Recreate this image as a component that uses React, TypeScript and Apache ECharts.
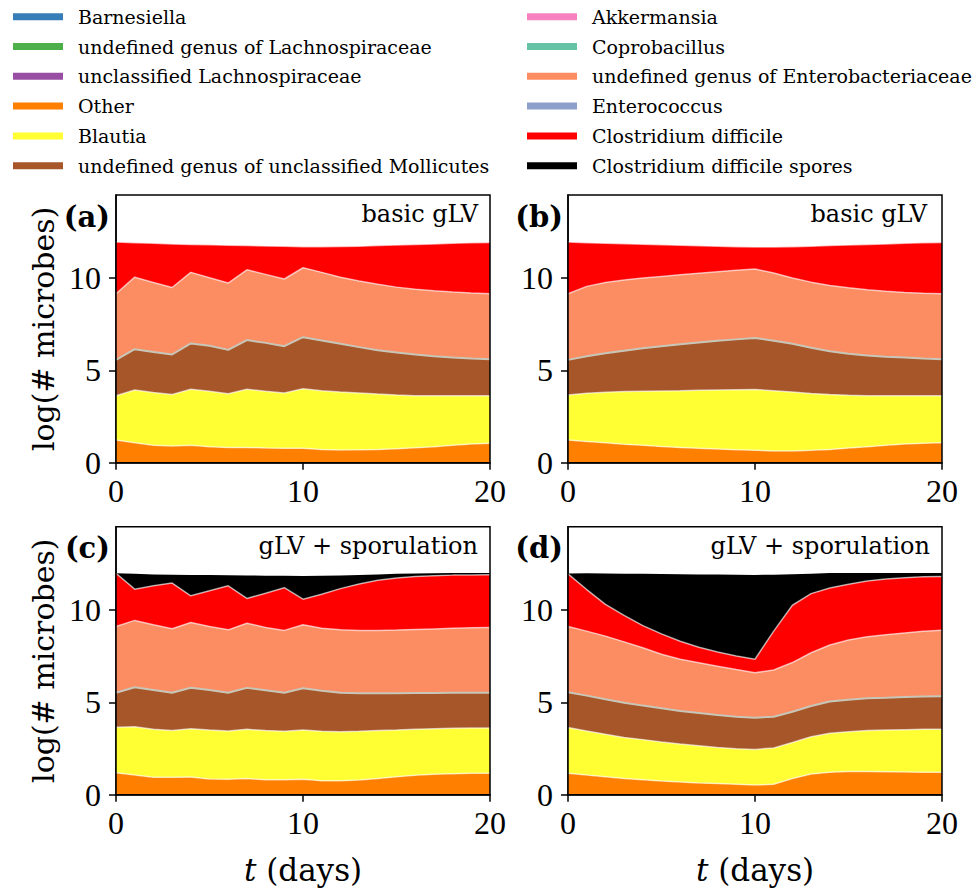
import React, { useEffect, useRef } from "react";
import * as echarts from "echarts";

const days = [0, 1, 2, 3, 4, 5, 6, 7, 8, 9, 10, 11, 12, 13, 14, 15, 16, 17, 18, 19, 20];

const species = [
  "Barnesiella",
  "undefined genus of Lachnospiraceae",
  "unclassified Lachnospiraceae",
  "Other",
  "Blautia",
  "undefined genus of unclassified Mollicutes",
  "Akkermansia",
  "Coprobacillus",
  "undefined genus of Enterobacteriaceae",
  "Enterococcus",
  "Clostridium difficile",
  "Clostridium difficile spores",
];
const speciesColors = [
  "#377eb8", "#4daf4a", "#984ea3", "#ff7f00", "#ffff33", "#a65628",
  "#f781bf", "#66c2a5", "#fc8d62", "#8da0cb", "#ff0000", "#000000",
];

// absent (≈0 on the log-stack) layers
const absent = [0, 0, 0, 0, 0, 0, 0, 0, 0, 0, 0, 0, 0, 0, 0, 0, 0, 0, 0, 0, 0];

// (a) basic gLV, pulsed
const otherA = [1.23, 1.08, 0.94, 0.90, 0.94, 0.87, 0.83, 0.83, 0.80, 0.78, 0.78, 0.72, 0.69, 0.70, 0.72, 0.76, 0.81, 0.87, 0.94, 1.01, 1.05];
const blautiaA = [2.40, 2.86, 2.86, 2.79, 3.04, 3.00, 2.91, 3.15, 3.07, 3.00, 3.22, 3.18, 3.14, 3.08, 3.00, 2.91, 2.82, 2.75, 2.68, 2.61, 2.57];
const mollA = [1.94, 2.21, 2.20, 2.17, 2.48, 2.46, 2.37, 2.66, 2.62, 2.53, 2.80, 2.72, 2.61, 2.48, 2.37, 2.30, 2.23, 2.15, 2.08, 2.02, 1.99];
const enteroA = [3.58, 3.90, 3.76, 3.63, 3.85, 3.69, 3.62, 3.81, 3.71, 3.64, 3.76, 3.69, 3.61, 3.58, 3.57, 3.54, 3.54, 3.54, 3.54, 3.55, 3.54];
const cdiffA = [2.80, 1.87, 2.12, 2.36, 1.51, 1.78, 2.05, 1.31, 1.54, 1.77, 1.14, 1.39, 1.66, 1.89, 2.10, 2.28, 2.42, 2.54, 2.64, 2.72, 2.78];
const sporesA = [0, 0, 0, 0, 0, 0, 0, 0, 0, 0, 0, 0, 0, 0, 0, 0, 0, 0, 0, 0, 0];

// (b) basic gLV, continuous
const otherB = [1.23, 1.15, 1.08, 1.00, 0.94, 0.88, 0.83, 0.78, 0.74, 0.70, 0.67, 0.64, 0.63, 0.67, 0.72, 0.80, 0.87, 0.94, 1.01, 1.05, 1.08];
const blautiaB = [2.44, 2.61, 2.74, 2.85, 2.93, 3.01, 3.07, 3.14, 3.20, 3.25, 3.29, 3.26, 3.20, 3.08, 2.97, 2.85, 2.75, 2.68, 2.61, 2.57, 2.54];
const mollB = [1.90, 2.01, 2.11, 2.22, 2.33, 2.42, 2.52, 2.59, 2.66, 2.73, 2.80, 2.70, 2.61, 2.48, 2.35, 2.25, 2.18, 2.12, 2.08, 2.03, 1.99];
const enteroB = [3.58, 3.78, 3.83, 3.82, 3.80, 3.78, 3.76, 3.75, 3.74, 3.74, 3.73, 3.67, 3.56, 3.55, 3.56, 3.57, 3.57, 3.55, 3.52, 3.53, 3.54];
const cdiffB = [2.80, 2.37, 2.13, 1.97, 1.83, 1.72, 1.60, 1.49, 1.38, 1.28, 1.19, 1.41, 1.70, 1.95, 2.16, 2.32, 2.45, 2.56, 2.66, 2.73, 2.78];
const sporesB = [0, 0, 0, 0, 0, 0, 0, 0, 0, 0, 0, 0, 0, 0, 0, 0, 0, 0, 0, 0, 0];

// (c) gLV + sporulation, pulsed
const otherC = [1.19, 1.06, 0.94, 0.94, 0.96, 0.85, 0.83, 0.87, 0.81, 0.81, 0.83, 0.76, 0.76, 0.79, 0.88, 0.97, 1.05, 1.10, 1.14, 1.16, 1.16];
const blautiaC = [2.46, 2.62, 2.60, 2.54, 2.61, 2.65, 2.62, 2.67, 2.66, 2.62, 2.67, 2.67, 2.65, 2.64, 2.59, 2.53, 2.49, 2.47, 2.45, 2.45, 2.45];
const mollC = [1.87, 2.13, 2.13, 2.04, 2.22, 2.17, 2.07, 2.24, 2.18, 2.09, 2.26, 2.20, 2.11, 2.06, 2.02, 1.99, 1.96, 1.93, 1.92, 1.91, 1.91];
const enteroC = [3.58, 3.62, 3.52, 3.46, 3.53, 3.43, 3.40, 3.50, 3.40, 3.37, 3.43, 3.38, 3.40, 3.40, 3.40, 3.42, 3.44, 3.47, 3.49, 3.51, 3.53];
const cdiffC = [2.88, 1.69, 2.11, 2.47, 1.44, 1.93, 2.38, 1.34, 1.85, 2.31, 1.39, 1.84, 2.23, 2.51, 2.71, 2.81, 2.86, 2.88, 2.88, 2.86, 2.85];
const sporesC = [0.0, 0.83, 0.62, 0.45, 1.13, 0.85, 0.57, 1.24, 0.95, 0.64, 1.25, 0.99, 0.71, 0.49, 0.32, 0.23, 0.17, 0.13, 0.11, 0.10, 0.09];

// (d) gLV + sporulation, continuous
const otherD = [1.16, 1.06, 0.97, 0.88, 0.81, 0.74, 0.69, 0.63, 0.60, 0.56, 0.52, 0.57, 0.88, 1.12, 1.21, 1.25, 1.25, 1.24, 1.23, 1.21, 1.21];
const blautiaD = [2.47, 2.39, 2.30, 2.22, 2.17, 2.11, 2.05, 2.02, 1.96, 1.93, 1.93, 1.96, 1.94, 2.02, 2.11, 2.16, 2.22, 2.26, 2.29, 2.33, 2.33];
const mollD = [1.91, 1.91, 1.89, 1.88, 1.84, 1.83, 1.79, 1.77, 1.75, 1.73, 1.72, 1.69, 1.67, 1.66, 1.72, 1.73, 1.75, 1.75, 1.77, 1.77, 1.78];
const enteroD = [3.56, 3.49, 3.42, 3.29, 3.13, 2.92, 2.80, 2.72, 2.64, 2.55, 2.43, 2.53, 2.66, 2.88, 3.06, 3.23, 3.33, 3.41, 3.46, 3.53, 3.58];
const cdiffD = [2.85, 2.25, 1.72, 1.43, 1.20, 1.10, 0.97, 0.84, 0.77, 0.73, 0.73, 2.10, 3.10, 3.20, 3.08, 3.02, 3.01, 3.01, 2.99, 2.95, 2.91];
const sporesD = [0.02, 0.88, 1.67, 2.26, 2.80, 3.24, 3.63, 3.94, 4.19, 4.40, 4.56, 3.05, 1.68, 1.08, 0.81, 0.61, 0.44, 0.33, 0.25, 0.20, 0.18];

const yTicks = [0, 5, 10];
const xTickDays = [0, 10, 20];
const panelLetters = ["(a)", "(b)", "(c)", "(d)"];
const panelModels = ["basic gLV", "basic gLV", "gLV + sporulation", "gLV + sporulation"];

const panels = [
  [absent, absent, absent, otherA, blautiaA, mollA, absent, absent, enteroA, absent, cdiffA, sporesA],
  [absent, absent, absent, otherB, blautiaB, mollB, absent, absent, enteroB, absent, cdiffB, sporesB],
  [absent, absent, absent, otherC, blautiaC, mollC, absent, absent, enteroC, absent, cdiffC, sporesC],
  [absent, absent, absent, otherD, blautiaD, mollD, absent, absent, enteroD, absent, cdiffD, sporesD],
];

const SERIF = "DejaVu Serif";
const DIGITS = "Liberation Serif";

const gridBoxes = [
  { left: 116, top: 195, width: 374, height: 267.7 },
  { left: 568, top: 195, width: 374, height: 267.7 },
  { left: 116, top: 526.7, width: 374, height: 268 },
  { left: 568, top: 526.7, width: 374, height: 268 },
];
const letterRight = [110, 563, 110, 563];
const modelRight = [478, 927, 478, 930];

function edgeStyle(k: number) {
  if (k === 3 || k === 4 || k === 8 || k === 10) return { width: 1.5, color: "rgba(255,255,255,0.6)" };
  if (k === 7) return { width: 2, color: "#c8c6b8" };
  return { width: 0, color: "rgba(0,0,0,0)" };
}

const isXTick = (index: number) => xTickDays.indexOf(days[index]) >= 0;

function buildOption() {
  const series: any[] = [];
  panels.forEach((layers, p) => {
    layers.forEach((vals, k) => {
      series.push({
        type: "line",
        name: species[k],
        xAxisIndex: p,
        yAxisIndex: p,
        stack: "panel" + p,
        data: vals,
        showSymbol: false,
        symbol: "none",
        silent: true,
        lineStyle: edgeStyle(k),
        itemStyle: { color: speciesColors[k] },
        areaStyle: { color: speciesColors[k], opacity: 1 },
        emphasis: { disabled: true },
      });
    });
  });

  const legendItems = species.map((n, k) => ({ name: n, itemStyle: { color: speciesColors[k], borderWidth: 0 } }));
  const legendCommon = {
    orient: "vertical",
    top: 6.7,
    padding: 0,
    itemWidth: 50,
    itemHeight: 7,
    itemGap: 9.8,
    icon: "rect",
    selectedMode: false,
    textStyle: { fontFamily: SERIF, fontSize: 19, color: "#000", lineHeight: 20, padding: [0, 0, 0, 10] },
  };

  const graphics: any[] = [];
  gridBoxes.forEach((g, p) => {
    graphics.push({
      type: "text",
      x: letterRight[p],
      y: g.top + 21.5,
      z: 100,
      style: { text: panelLetters[p], fill: "#000", fontFamily: SERIF, fontSize: 29, fontWeight: "bold", align: "right", verticalAlign: "middle" },
    });
    graphics.push({
      type: "text",
      x: modelRight[p],
      y: g.top + 19.4,
      z: 100,
      style: { text: panelModels[p], fill: "#000", fontFamily: SERIF, fontSize: 24, align: "right", verticalAlign: "middle" },
    });
    graphics.push({
      type: "rect",
      z: 100,
      silent: true,
      shape: { x: g.left, y: g.top, width: g.width, height: g.height },
      style: { fill: "none", stroke: "#000", lineWidth: 1.5 },
    });
  });

  return {
    animation: false,
    backgroundColor: "#fff",
    legend: [
      { ...legendCommon, left: 13, data: legendItems.slice(0, 6) },
      { ...legendCommon, left: 527, data: legendItems.slice(6, 12) },
    ],
    grid: gridBoxes.map((g) => ({ ...g, show: false })),
    xAxis: gridBoxes.map((g, p) => ({
      type: "category",
      gridIndex: p,
      data: days.map(String),
      boundaryGap: false,
      name: p >= 2 ? "{i|t} (days)" : "",
      nameLocation: "middle",
      nameGap: 60,
      nameTextStyle: {
        fontFamily: SERIF,
        fontSize: 31,
        color: "#000",
        rich: { i: { fontFamily: SERIF, fontSize: 31, fontStyle: "italic", color: "#000" } },
      },
      splitLine: { show: false },
      axisLine: { show: true, onZero: false, lineStyle: { color: "#000", width: 1.5 } },
      axisTick: { show: true, length: 7, inside: false, alignWithLabel: true, interval: isXTick, lineStyle: { color: "#000", width: 1.5 } },
      axisLabel: { fontFamily: DIGITS, fontSize: 32, color: "#000", margin: 12, interval: isXTick },
    })),
    yAxis: gridBoxes.map((g, p) => ({
      type: "value",
      gridIndex: p,
      min: 0,
      max: 14.5,
      interval: 5,
      name: p % 2 === 0 ? "log(# microbes)" : "",
      nameLocation: "middle",
      nameGap: 58,
      nameRotate: 90,
      nameTextStyle: { fontFamily: SERIF, fontSize: 30, color: "#000" },
      splitLine: { show: false },
      axisLine: { show: true, onZero: false, lineStyle: { color: "#000", width: 1.5 } },
      axisTick: { show: true, length: 7, inside: false, lineStyle: { color: "#000", width: 1.5 }, customValues: yTicks },
      axisLabel: { fontFamily: DIGITS, fontSize: 32, color: "#000", margin: 15, customValues: yTicks },
    })),
    graphic: graphics,
    series,
  };
}

export default function App() {
  const ref = useRef<HTMLDivElement>(null);
  useEffect(() => {
    if (!ref.current) return;
    const chart = echarts.init(ref.current, null, { renderer: "svg" });
    chart.setOption(buildOption() as any);
    return () => chart.dispose();
  }, []);
  return (
    <div
      ref={ref}
      style={{ position: "absolute", left: 0, top: 0, width: 972, height: 888, background: "#fff" }}
    />
  );
}
